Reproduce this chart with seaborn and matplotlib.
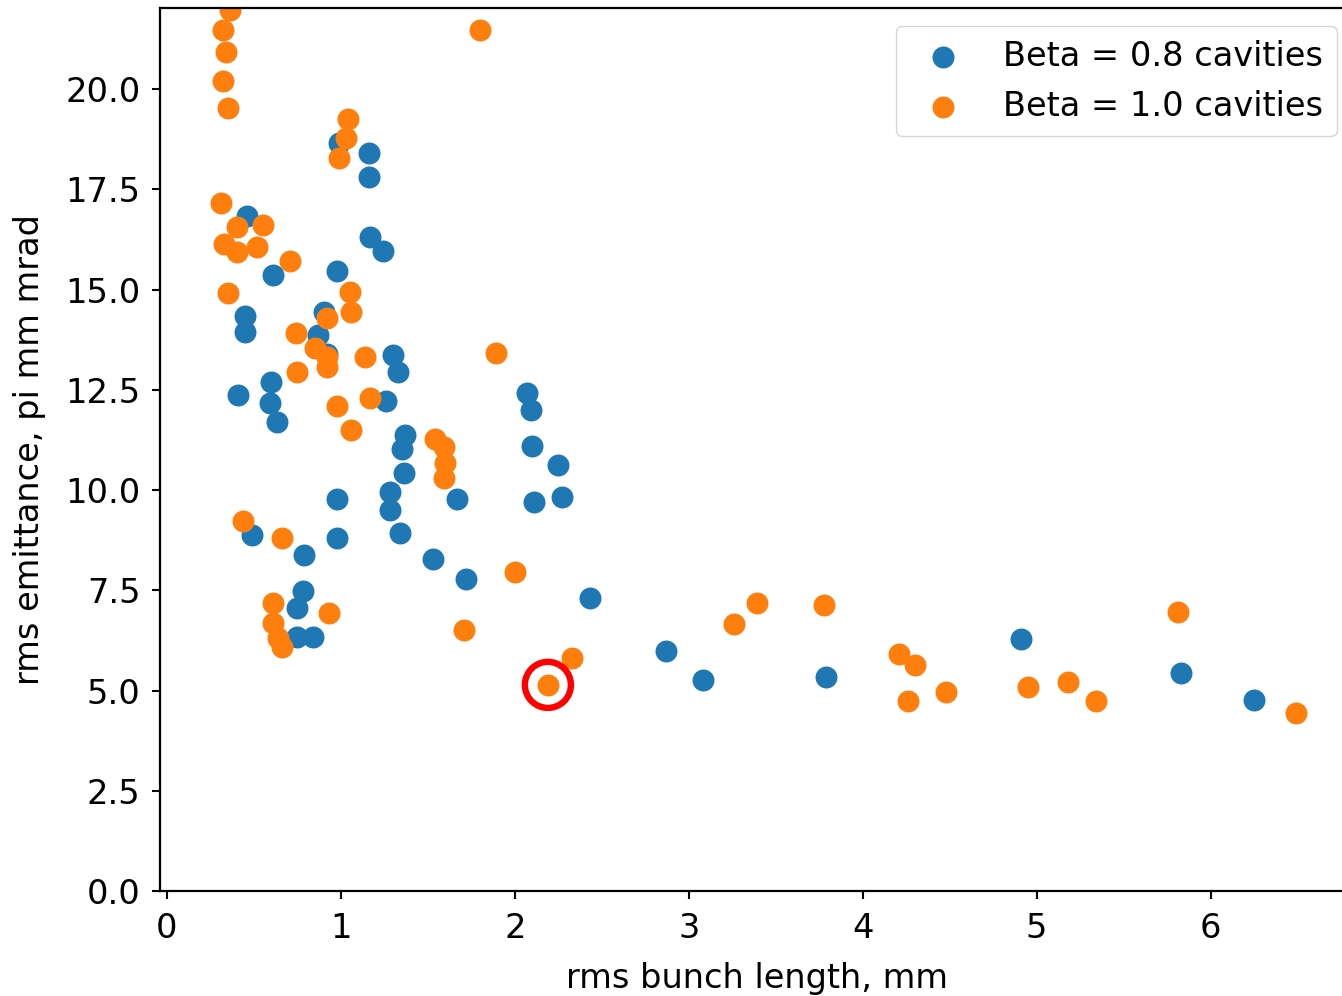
import matplotlib
matplotlib.use("Agg")
import matplotlib.pyplot as plt
import seaborn as sns
import pandas as pd

# Beta = 0.8 cavities
beta08_x = [0.46, 0.61, 0.45, 0.45, 0.41, 0.60, 0.59, 0.63, 0.49, 0.79, 0.78, 0.75, 0.75, 0.84,
            0.98, 0.90, 0.87, 0.92, 0.99, 1.16, 1.16, 1.17, 1.24, 0.98, 0.98, 1.30, 1.33, 1.26,
            1.37, 1.35, 1.36, 1.28, 1.28, 1.34, 1.53, 1.67, 1.72, 2.07, 2.09, 2.10, 2.25, 2.27,
            2.11, 2.43, 2.87, 3.08, 3.79, 4.91, 5.83, 6.25]
beta08_y = [16.83, 15.36, 14.34, 13.95, 12.37, 12.69, 12.17, 11.70, 8.88, 8.38, 7.48, 7.06, 6.33, 6.33,
            15.46, 14.44, 13.87, 13.40, 18.65, 18.40, 17.81, 16.31, 15.96, 9.78, 8.80, 13.37, 12.94, 12.22,
            11.37, 11.02, 10.42, 9.95, 9.50, 8.93, 8.28, 9.78, 7.78, 12.42, 12.00, 11.10, 10.62, 9.83,
            9.70, 7.31, 5.99, 5.26, 5.34, 6.28, 5.44, 4.76]

# Beta = 1.0 cavities
beta10_x = [0.36, 0.32, 0.34, 0.32, 0.35, 1.04, 1.03, 0.99, 1.80, 0.31, 0.40, 0.55, 0.33, 0.40,
            0.52, 0.71, 0.35, 1.05, 1.06, 0.92, 0.74, 0.85, 0.92, 0.92, 0.75, 1.14, 1.17, 0.98,
            1.06, 1.89, 1.54, 1.59, 1.60, 1.59, 0.44, 0.66, 0.61, 0.61, 0.64, 0.66, 0.93, 1.71,
            2.00, 2.33, 2.19, 3.39, 3.26, 3.78, 4.21, 4.30, 4.26, 4.48, 4.95, 5.18, 5.34, 5.81, 6.49]
beta10_y = [21.97, 21.47, 20.92, 20.20, 19.53, 19.25, 18.78, 18.28, 21.47, 17.16, 16.56, 16.61, 16.13, 15.94,
            16.06, 15.71, 14.91, 14.94, 14.44, 14.29, 13.91, 13.54, 13.32, 13.07, 12.94, 13.32, 12.29, 12.09,
            11.50, 13.42, 11.27, 11.07, 10.67, 10.30, 9.23, 8.80, 7.18, 6.68, 6.31, 6.08, 6.93, 6.51,
            7.96, 5.81, 5.14, 7.18, 6.66, 7.13, 5.91, 5.64, 4.74, 4.96, 5.09, 5.21, 4.74, 6.96, 4.44]

labels = ["Beta = 0.8 cavities", "Beta = 1.0 cavities"]
highlight_x = [2.19]
highlight_y = [5.14]

FS = 24.2
plt.rcParams.update({
    "font.family": ["DejaVu Sans"],
    "font.size": FS,
    "axes.linewidth": 1.6,
    "xtick.major.width": 1.5,
    "ytick.major.width": 1.5,
    "xtick.major.size": 6,
    "ytick.major.size": 6,
    "xtick.major.pad": 9,
    "ytick.major.pad": 8,
})

fig = plt.figure(figsize=(13.42, 9.96), dpi=100)
ax = fig.add_axes([160 / 1342, 1 - 891 / 996, (1355 - 160) / 1342, (891 - 8) / 996])

df08 = pd.DataFrame({"x": beta08_x, "y": beta08_y})
df10 = pd.DataFrame({"x": beta10_x, "y": beta10_y})

sns.scatterplot(data=df08, x="x", y="y", ax=ax, color="#1f77b4", s=250, linewidth=0, label=labels[0])
sns.scatterplot(data=df10, x="x", y="y", ax=ax, color="#ff7f0e", s=250, linewidth=0, label=labels[1])
ax.scatter(highlight_x, highlight_y, s=1100, facecolors="none", edgecolors="#ff0000", linewidths=4.6, zorder=5)

ax.set_xlim(-0.04, 6.83)
ax.set_ylim(0, 22.02)
ax.set_xticks([0, 1, 2, 3, 4, 5, 6])
ax.set_yticks([0, 2.5, 5, 7.5, 10, 12.5, 15, 17.5, 20])
ax.set_yticklabels(["0.0", "2.5", "5.0", "7.5", "10.0", "12.5", "15.0", "17.5", "20.0"])
ax.tick_params(labelsize=FS)
ax.set_xlabel("rms bunch length, mm", fontsize=FS, labelpad=12)
ax.set_ylabel("rms emittance, pi mm mrad", fontsize=FS, labelpad=14)

ax.legend(loc="upper right", fontsize=FS, frameon=True, framealpha=0.8, edgecolor="#cccccc",
          borderaxespad=0.55)

fig.savefig("out.png", dpi=100)
